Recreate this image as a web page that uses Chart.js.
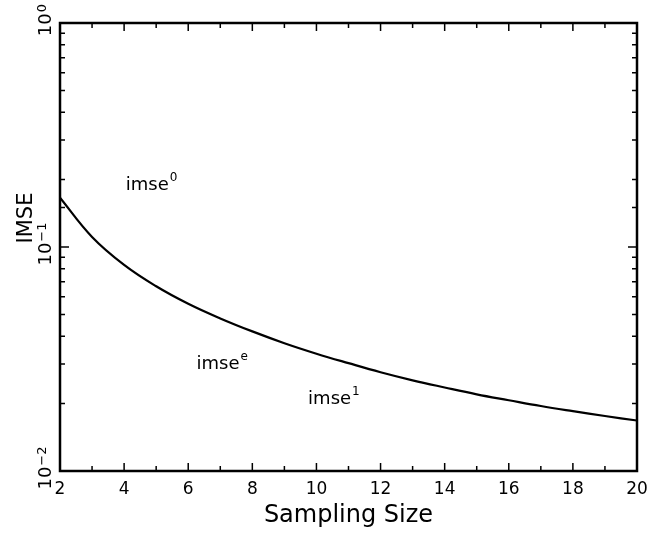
<!DOCTYPE html>
<html><head><meta charset="utf-8">
<script src="https://cdn.jsdelivr.net/npm/chart.js@4/dist/chart.umd.min.js"></script>
<style>html,body{margin:0;padding:0;background:#fff}</style>
</head><body>
<canvas id="c" width="648" height="533"></canvas>
<script>
// ---- data ----
const samplingSize = [2,3,4,5,6,7,8,9,10,11,12,13,14,15,16,17,18,19,20];
const imse = [0.166,0.1109,0.0832,0.0668,0.0558,0.0480,0.0420,0.0372,0.0334,0.0303,0.0276,0.0254,0.0236,0.0220,0.0207,0.0195,0.0185,0.0176,0.0168];
const xTickLabels = ['2','4','6','8','10','12','14','16','18','20'];
const yTickValues = [0.01, 0.1, 1];
const yTickBase = ['10','10','10'];
const yTickExp = ['\u22122','\u22121','0'];
const curveLabels = ['imse','imse','imse'];
const curveLabelSup = ['0','e','1'];
const curveLabelX = [4.05, 6.26, 9.74];
const curveLabelY = [0.179, 0.0284, 0.0199];
const xTitle = 'Sampling Size';
const yTitle = 'IMSE';

const FONT = '"DejaVu Sans", sans-serif';

function isDecade(v){ const l = Math.log10(v); return Math.abs(l - Math.round(l)) < 1e-6; }

const framePlugin = {
  id:'frame',
  afterDraw(chart){
    const {ctx, chartArea:a, scales:{x,y}} = chart;
    ctx.save();
    ctx.strokeStyle='#000';
    ctx.lineWidth=2.5;
    ctx.strokeRect(a.left, a.top, a.right-a.left, a.bottom-a.top);
    ctx.lineWidth=1.5;
    ctx.beginPath();
    x.ticks.forEach(t=>{
      const px = x.getPixelForValue(t.value);
      const len = (t.value % 2 === 0) ? 8 : 5;
      ctx.moveTo(px, a.bottom); ctx.lineTo(px, a.bottom-len);
      ctx.moveTo(px, a.top); ctx.lineTo(px, a.top+len);
    });
    y.ticks.forEach(t=>{
      const py = y.getPixelForValue(t.value);
      const len = isDecade(t.value) ? 9 : 5;
      ctx.moveTo(a.left, py); ctx.lineTo(a.left+len, py);
      ctx.moveTo(a.right, py); ctx.lineTo(a.right-len, py);
    });
    ctx.stroke();
    ctx.fillStyle='#000';
    // y tick labels (rotated, with superscript exponent)
    yTickValues.forEach((v,i)=>{
      const py = y.getPixelForValue(v);
      ctx.font = '18px '+FONT;
      const wb = ctx.measureText(yTickBase[i]).width;
      ctx.font = '13px '+FONT;
      const we = ctx.measureText(yTickExp[i]).width;
      const w = wb + 1 + we;
      let start = py + w/2 - 3;
      if (start - w < 4) start = 4 + w;
      ctx.save();
      ctx.translate(51, start);
      ctx.rotate(-Math.PI/2);
      ctx.textAlign='left'; ctx.textBaseline='alphabetic';
      ctx.font = '18px '+FONT;
      ctx.fillText(yTickBase[i], 0, 0);
      ctx.font = '13px '+FONT;
      ctx.fillText(yTickExp[i], wb+1, -5);
      ctx.restore();
    });
    // curve annotations
    ctx.textAlign='left'; ctx.textBaseline='alphabetic';
    curveLabels.forEach((s,i)=>{
      const px = x.getPixelForValue(curveLabelX[i]);
      const py = y.getPixelForValue(curveLabelY[i]);
      ctx.font = '18px '+FONT;
      ctx.fillText(s, px, py);
      const w = ctx.measureText(s).width;
      ctx.font = '12px '+FONT;
      ctx.fillText(curveLabelSup[i], px + w + 1, py - 9);
    });
    // y title
    ctx.font = '21px '+FONT;
    ctx.textAlign='center'; ctx.textBaseline='middle';
    ctx.translate(27, 218);
    ctx.rotate(-Math.PI/2);
    ctx.fillText(yTitle, 0, 0);
    ctx.restore();
  }
};

new Chart(document.getElementById('c'), {
  type:'line',
  data:{
    datasets:[{
      data: samplingSize.map((v,i)=>({x:v, y:imse[i]})),
      borderColor:'#000', borderWidth:2.2, pointRadius:0, fill:false,
      tension:0.4
    }]
  },
  options:{
    responsive:false, animation:false, devicePixelRatio:1,
    layout:{padding:{top:23, right:11, left:0, bottom:0}},
    plugins:{legend:{display:false}, tooltip:{enabled:false}},
    scales:{
      x:{
        type:'linear', min:2, max:20,
        grid:{display:false, drawTicks:false}, border:{display:false},
        ticks:{stepSize:1, autoSkip:false, maxRotation:0, color:'#000', padding:8,
               font:{family:FONT, size:17},
               callback:(v)=> (v%2===0 ? xTickLabels[(v-2)/2] : '')},
        title:{display:true, text:xTitle, color:'#000', font:{family:FONT, size:24}, padding:{top:2,bottom:3}},
        afterFit:(s)=>{ s.height = 62; s.paddingLeft = 0; s.paddingRight = 0; }
      },
      y:{
        type:'logarithmic', min:0.01, max:1,
        grid:{display:false, drawTicks:false}, border:{display:false},
        ticks:{display:false, autoSkip:false},
        afterFit:(s)=>{ s.width = 60; s.paddingTop = 0; s.paddingBottom = 0; }
      }
    }
  },
  plugins:[framePlugin]
});
</script>
</body></html>
